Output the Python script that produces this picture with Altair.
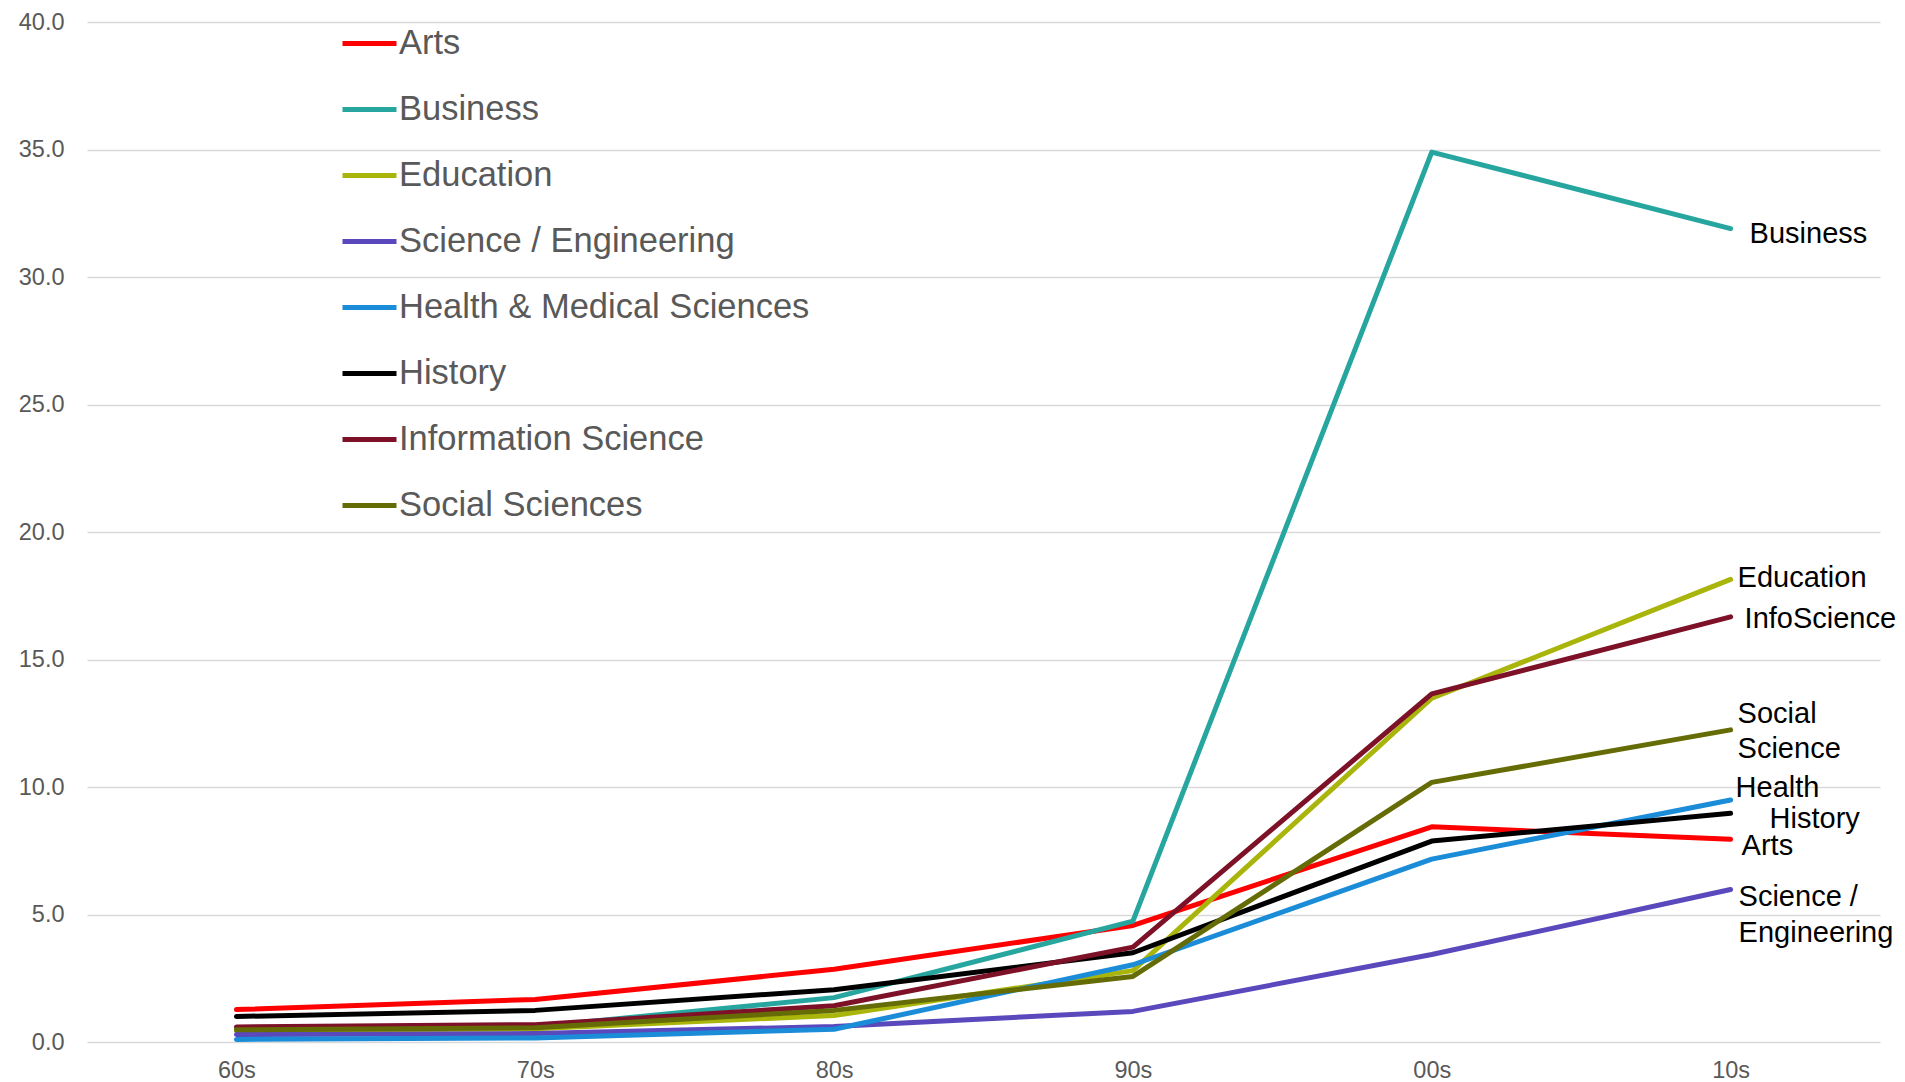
import altair as alt
import pandas as pd

decades = ["60s", "70s", "80s", "90s", "00s", "10s"]
series_names = ["Arts", "Business", "Education", "Science / Engineering",
                "Health & Medical Sciences", "History", "Information Science", "Social Sciences"]
arts = [1.27, 1.67, 2.85, 4.57, 8.44, 7.95]
business = [0.45, 0.6, 1.74, 4.74, 34.9, 31.9]
education = [0.45, 0.52, 1.04, 2.8, 13.48, 18.14]
science_eng = [0.29, 0.33, 0.61, 1.2, 3.43, 5.98]
health = [0.1, 0.16, 0.5, 3.03, 7.17, 9.49]
history = [1.0, 1.24, 2.05, 3.5, 7.88, 8.97]
info_science = [0.59, 0.68, 1.42, 3.72, 13.65, 16.67]
social = [0.48, 0.56, 1.24, 2.57, 10.18, 12.24]
colors = ["#ff0000", "#26a69f", "#a9b50a", "#5a48bd", "#1a8cd8", "#000000", "#7d1127", "#666c05"]

all_values = [arts, business, education, science_eng, health, history, info_science, social]

rows = []
for name, vals in zip(series_names, all_values):
    for d, v in zip(decades, vals):
        rows.append({"decade": d, "value": v, "series": name})
df = pd.DataFrame(rows)

# end-of-line annotation labels (text, y in data units, x offset in px)
ann_text = ["Business", "Education", "InfoScience", "Social", "Science", "Health",
            "History", "Arts", "Science /", "Engineering"]
ann_y = [31.7, 18.2, 16.57, 12.86, 11.48, 9.95, 8.76, 7.67, 5.67, 4.29]
ann_dx = [19, 7, 14, 7, 7, 5, 39, 11, 8, 8]

FONT = "Liberation Sans"

base = alt.Chart(df)
lines = base.mark_line(strokeWidth=5, strokeCap="round", strokeJoin="round").encode(
    x=alt.X("decade:N", sort=decades,
            scale=alt.Scale(type="point", padding=0.5),
            axis=alt.Axis(title=None, labelAngle=0, ticks=False, domain=False, grid=False,
                          labelFontSize=23.5, labelColor="#595959", labelFont=FONT,
                          labelPadding=16)),
    y=alt.Y("value:Q", scale=alt.Scale(domain=[0, 40], nice=False),
            axis=alt.Axis(title=None, values=[0, 5, 10, 15, 20, 25, 30, 35, 40], format=".1f",
                          ticks=False, domain=False, gridColor="#d9d9d9", gridWidth=1.5,
                          labelFontSize=23.5, labelColor="#595959", labelFont=FONT,
                          labelPadding=23)),
    color=alt.Color("series:N", sort=series_names,
                    scale=alt.Scale(domain=series_names, range=colors),
                    legend=alt.Legend(title=None, orient="none", legendX=253, legendY=-8,
                                      symbolType="stroke", symbolSize=2916, symbolStrokeWidth=5,
                                      labelFontSize=34.5, labelColor="#595959", labelFont=FONT,
                                      labelOffset=0, rowPadding=20, labelLimit=800)),
)

layers = [lines]
for t, yv, dx in zip(ann_text, ann_y, ann_dx):
    adf = pd.DataFrame({"decade": ["10s"], "value": [yv], "label": [t]})
    layers.append(
        alt.Chart(adf).mark_text(align="left", baseline="middle", dx=dx, fontSize=29,
                                 font=FONT, color="#000000").encode(
            x=alt.X("decade:N", sort=decades),
            y=alt.Y("value:Q"),
            text="label:N",
        )
    )

chart = alt.layer(*layers).properties(
    width=1793, height=1020,
    autosize=alt.AutoSizeParams(type="none"),
    padding={"left": 79, "top": 14, "right": 17, "bottom": 40},
    background="white",
).configure_view(stroke=None)

chart.save("out.html", embed_options={"renderer": "svg", "actions": False})
